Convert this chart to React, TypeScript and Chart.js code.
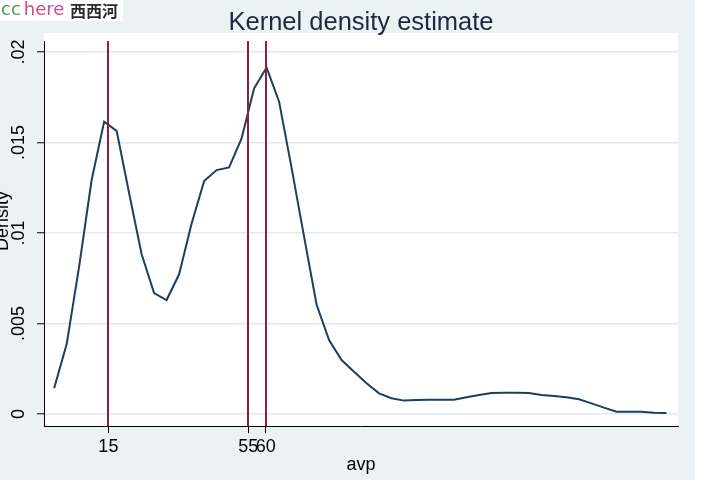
import React, { useEffect, useRef } from "react";
import { Chart, registerables } from "chart.js";

Chart.register(...registerables);

// evaluation grid of the kernel density (avp)
const AVP_GRID = [
  -0.5, 3.07, 6.64, 10.21, 13.79, 17.36, 20.93, 24.5, 28.07, 31.64,
  35.21, 38.79, 42.36, 45.93, 49.5, 53.07, 56.64, 60.21, 63.79, 67.36,
  70.93, 74.5, 78.07, 81.64, 85.21, 88.79, 92.36, 95.93, 99.5, 103.07,
  106.64, 110.21, 113.79, 117.36, 120.93, 124.5, 128.07, 131.64, 135.21, 138.79,
  142.36, 145.93, 149.5, 153.07, 156.64, 160.21, 163.79, 167.36, 170.93, 174.5,
];

// estimated density at each grid point
const DENSITY = [
  0.00142, 0.00385, 0.00814, 0.01293, 0.01615, 0.01565, 0.0122, 0.00883, 0.00668, 0.0063,
  0.00772, 0.01053, 0.01287, 0.01348, 0.01363, 0.01523, 0.01799, 0.01915, 0.01726, 0.0136,
  0.0098, 0.00605, 0.00409, 0.00298, 0.00234, 0.0017, 0.00114, 0.00087, 0.00074, 0.00077,
  0.00079, 0.00079, 0.00079, 0.00092, 0.00105, 0.00116, 0.00118, 0.00118, 0.00116, 0.00105,
  0.00099, 0.00092, 0.00081, 0.00059, 0.00035, 0.00013, 0.00012, 0.00012, 0.00007, 0.00006,
];

// reference lines (xline)
const X_LINES = [15, 55, 60];

const X_TICKS = [15, 55, 60];
const X_TICK_LABELS = ["15", "55", "60"];
const Y_TICKS = [0, 0.005, 0.01, 0.015, 0.02];
const Y_TICK_LABELS = ["0", ".005", ".01", ".015", ".02"];

const X_MIN = -3.4;
const X_MAX = 177.8;
const Y_MIN = -0.000663;
const Y_MAX = 0.020608;

const TITLE = "Kernel density estimate";
const X_TITLE = "avp";
const Y_TITLE = "Density";

const FONT = '"Liberation Sans", Arial, Helvetica, sans-serif';
const BG = "#eaf2f3";

export default function App() {
  const ref = useRef<HTMLCanvasElement>(null);

  useEffect(() => {
    document.body.style.margin = "0";
    const canvas = ref.current!;

    const backgroundPlugin = {
      id: "bgPlugin",
      beforeDraw(chart: any) {
        const { ctx, chartArea } = chart;
        ctx.save();
        ctx.fillStyle = BG;
        ctx.fillRect(0, 0, chart.width, chart.height);
        ctx.fillStyle = "#ffffff";
        ctx.fillRect(
          chartArea.left,
          chartArea.top - 8,
          chartArea.right - chartArea.left,
          chartArea.bottom - chartArea.top + 8
        );
        ctx.restore();
      },
    };

    const xlinePlugin = {
      id: "xlinePlugin",
      afterDatasetsDraw(chart: any) {
        const { ctx, chartArea, scales } = chart;
        ctx.save();
        ctx.strokeStyle = "#8e1f3e";
        ctx.lineWidth = 2;
        X_LINES.forEach((v) => {
          const px = Math.round(scales.x.getPixelForValue(v));
          ctx.beginPath();
          ctx.moveTo(px, chartArea.top);
          ctx.lineTo(px, chartArea.bottom);
          ctx.stroke();
        });
        ctx.restore();
      },
    };

    const yTitlePlugin = {
      id: "yTitlePlugin",
      afterDraw(chart: any) {
        const { ctx } = chart;
        ctx.save();
        ctx.translate(7.5, 221);
        ctx.rotate(-Math.PI / 2);
        ctx.font = `18px ${FONT}`;
        ctx.fillStyle = "#000";
        ctx.textAlign = "center";
        ctx.textBaseline = "alphabetic";
        ctx.fillText(Y_TITLE, 0, 0);
        ctx.restore();
      },
    };

    const chart = new Chart(canvas, {
      type: "line",
      data: {
        datasets: [
          {
            data: AVP_GRID.map((x, i) => ({ x, y: DENSITY[i] })),
            borderColor: "#1d3f5e",
            borderWidth: 2,
            pointRadius: 0,
            tension: 0,
            fill: false,
          },
        ],
      },
      options: {
        animation: false,
        responsive: false,
        devicePixelRatio: 1,
        layout: { padding: { left: 0, right: 17, top: 0, bottom: 0 } },
        plugins: {
          legend: { display: false },
          tooltip: { enabled: false },
          title: {
            display: true,
            text: TITLE,
            fullSize: false,
            color: "#1c2940",
            font: { family: FONT, size: 25.5, weight: "normal" },
            padding: { top: 8, bottom: 2.5 },
          },
        },
        scales: {
          x: {
            type: "linear",
            min: X_MIN,
            max: X_MAX,
            afterBuildTicks: (s: any) => {
              s.ticks = X_TICKS.map((v) => ({ value: v }));
            },
            afterFit: (s: any) => {
              s.height = 54;
            },
            ticks: {
              autoSkip: false,
              minRotation: 0,
              maxRotation: 0,
              padding: 3,
              color: "#000",
              font: { family: FONT, size: 18 },
              callback: (_v: any, i: number) => X_TICK_LABELS[i],
            },
            grid: {
              drawOnChartArea: false,
              drawTicks: true,
              tickLength: 7,
              tickColor: "#000",
              tickWidth: 1,
            },
            border: { display: true, color: "#000", width: 1 },
            title: {
              display: true,
              text: X_TITLE,
              color: "#000",
              font: { family: FONT, size: 18 },
              padding: { top: 0, bottom: 4 },
            },
          },
          y: {
            type: "linear",
            min: Y_MIN,
            max: Y_MAX,
            afterBuildTicks: (s: any) => {
              s.ticks = Y_TICKS.map((v) => ({ value: v }));
            },
            afterFit: (s: any) => {
              s.width = 44;
            },
            ticks: {
              autoSkip: false,
              minRotation: 90,
              maxRotation: 90,
              crossAlign: "center",
              padding: 0,
              color: "#000",
              font: { family: FONT, size: 18 },
              callback: (_v: any, i: number) => Y_TICK_LABELS[i],
            },
            grid: {
              color: "#e3eaec",
              lineWidth: 1.5,
              drawTicks: true,
              tickLength: 7,
              tickColor: "#000",
              tickWidth: 1,
            },
            border: { display: true, color: "#000", width: 1 },
          },
        },
      },
      plugins: [backgroundPlugin, xlinePlugin, yTitlePlugin],
    } as any);

    return () => chart.destroy();
  }, []);

  return (
    <div
      style={{
        position: "relative",
        width: 709,
        height: 487,
        background: "#ffffff",
        overflow: "hidden",
      }}
    >
      <canvas
        ref={ref}
        width={695}
        height={480}
        style={{ position: "absolute", left: 0, top: 0, width: 695, height: 480 }}
      />
      <div
        style={{
          position: "absolute",
          left: 0,
          top: 0,
          width: 123,
          height: 21,
          background: "#ffffff",
        }}
      >
        <span
          style={{
            position: "absolute",
            left: 1,
            top: -3,
            fontFamily: '"DejaVu Sans", Verdana, sans-serif',
            fontSize: 18,
            lineHeight: "24px",
            whiteSpace: "nowrap",
          }}
        >
          <span style={{ color: "#4c9b57" }}>cc</span>
          <span style={{ color: "#d24a8c", marginLeft: 3 }}>here</span>
        </span>
        <span
          style={{
            position: "absolute",
            left: 70,
            top: 2,
            fontFamily: '"Noto Sans CJK SC", sans-serif',
            fontSize: 16,
            fontWeight: "bold",
            lineHeight: "16px",
            color: "#2a2a2a",
            whiteSpace: "nowrap",
          }}
        >
          西西河
        </span>
      </div>
    </div>
  );
}
